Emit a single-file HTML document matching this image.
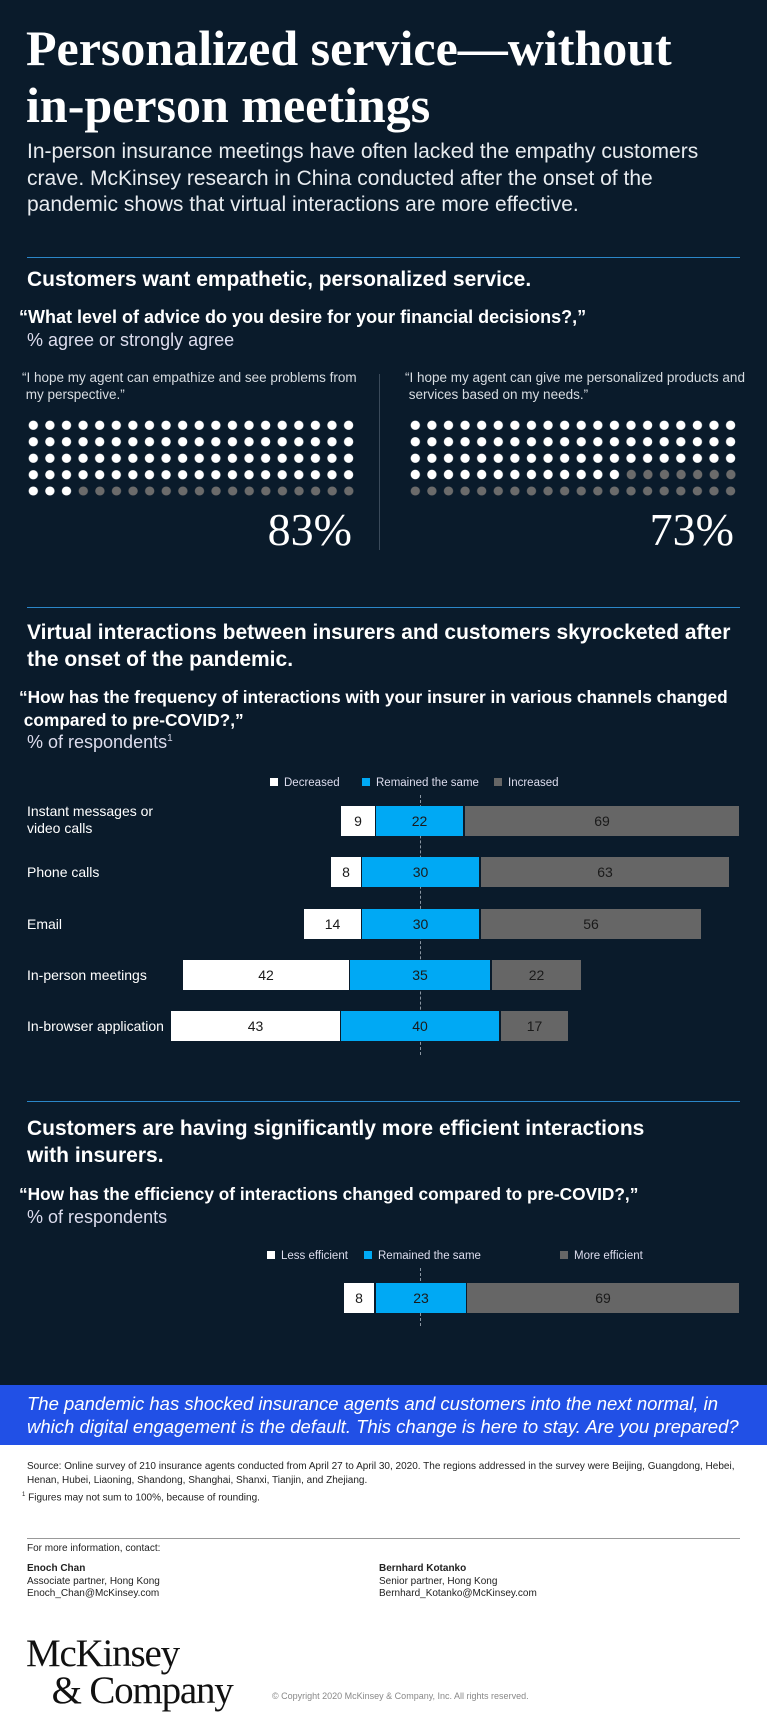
<!DOCTYPE html>
<html><head><meta charset="utf-8"><style>
*{margin:0;padding:0;box-sizing:border-box}
body{width:767px;height:1708px;position:relative;background:#0a1b2b;font-family:"Liberation Sans",sans-serif;color:#fff;overflow:hidden}
.a{position:absolute;white-space:nowrap}
.rule{position:absolute;left:27px;width:713px;height:1px;background:#2b87c8}
.w{background:radial-gradient(circle at center,#fff 4.3px,transparent 4.9px);background-size:16.6px 16.5px}
.g{background:radial-gradient(circle at center,#6b6b6b 4.3px,transparent 4.9px);background-size:16.6px 16.5px}
.bar{position:absolute;height:30px;display:flex;align-items:center;justify-content:center;font-size:14px;color:#1a1a1a}
.d{background:#fff}.r{background:#00a9f4}.i{background:#666}
.lab{position:absolute;left:27px;font-size:14px;color:#fff;line-height:17px}
.sq{display:inline-block;width:8px;height:8px;margin-right:6px;vertical-align:0}
</style></head><body>
<div class="a" style="left:26px;top:20px;font-family:'Liberation Serif',serif;font-size:50px;font-weight:bold;line-height:57px">Personalized service—without<br>in-person meetings</div>
<div class="a" style="left:27px;top:139px;font-size:21px;line-height:26.5px;color:#e8ecf0">In-person insurance meetings have often lacked the empathy customers<br>crave. McKinsey research in China conducted after the onset of the<br>pandemic shows that virtual interactions are more effective.</div>
<div class="rule" style="top:257px"></div>
<div class="a" style="left:27px;top:268px;font-size:21px;font-weight:bold">Customers want empathetic, personalized service.</div>
<div class="a" style="left:19px;top:307px;font-size:18px;font-weight:bold">“What level of advice do you desire for your financial decisions?,”</div>
<div class="a" style="left:27px;top:330px;font-size:18px;color:#dde">% agree or strongly agree</div>
<div class="a" style="left:22px;top:370px;font-size:13.5px;line-height:16.5px;color:#d8dde2">“I hope my agent can empathize and see problems from<br>&nbsp;my perspective.”</div>
<div class="a" style="left:405px;top:370px;font-size:13.5px;line-height:16.5px;color:#d8dde2">“I hope my agent can give me personalized products and<br>&nbsp;services based on my needs.”</div>
<div class="a w" style="left:24.7px;top:416.7px;width:332px;height:66px"></div>
<div class="a w" style="left:24.7px;top:482.7px;width:49.8px;height:16.5px"></div>
<div class="a g" style="left:74.5px;top:482.7px;width:282.2px;height:16.5px"></div>
<div class="a w" style="left:406.7px;top:416.7px;width:332px;height:49.5px"></div>
<div class="a w" style="left:406.7px;top:466.2px;width:215.8px;height:16.5px"></div>
<div class="a g" style="left:622.5px;top:466.2px;width:116.2px;height:16.5px"></div>
<div class="a g" style="left:406.7px;top:482.7px;width:332px;height:16.5px"></div>
<div class="a" style="left:379px;top:374px;width:1px;height:176px;background:#3a4a5a"></div>
<div class="a" style="right:415px;top:505px;font-family:'Liberation Serif',serif;font-size:46px;line-height:50px">83%</div>
<div class="a" style="right:33px;top:505px;font-family:'Liberation Serif',serif;font-size:46px;line-height:50px">73%</div>
<div class="rule" style="top:607px"></div>
<div class="a" style="left:27px;top:619px;font-size:21px;font-weight:bold;line-height:27px">Virtual interactions between insurers and customers skyrocketed after<br>the onset of the pandemic.</div>
<div class="a" style="left:19px;top:686px;font-size:17.3px;font-weight:bold;line-height:23px">“How has the frequency of interactions with your insurer in various channels changed<br>&nbsp;compared to pre-COVID?,”</div>
<div class="a" style="left:27px;top:732px;font-size:18px;color:#dde">% of respondents<sup style="font-size:10px">1</sup></div>
<div class="a" style="left:270px;top:777px;font-size:11.5px;color:#dde"><span class="sq d"></span>Decreased</div>
<div class="a" style="left:362px;top:777px;font-size:11.5px;color:#dde"><span class="sq r"></span>Remained the same</div>
<div class="a" style="left:494px;top:777px;font-size:11.5px;color:#dde"><span class="sq i"></span>Increased</div>
<div class="a" style="left:420px;top:795px;height:260px;border-left:1px dashed #8a96a2"></div>
<div class="lab" style="top:803px">Instant messages or<br>video calls</div>
<div class="bar d" style="left:341px;top:806px;width:34px">9</div><div class="bar r" style="left:376px;top:806px;width:87px">22</div><div class="bar i" style="left:465px;top:806px;width:274px">69</div>
<div class="lab" style="top:864px">Phone calls</div>
<div class="bar d" style="left:331px;top:857px;width:30px">8</div><div class="bar r" style="left:362px;top:857px;width:117px">30</div><div class="bar i" style="left:481px;top:857px;width:248px">63</div>
<div class="lab" style="top:916px">Email</div>
<div class="bar d" style="left:304px;top:909px;width:57px">14</div><div class="bar r" style="left:362px;top:909px;width:117px">30</div><div class="bar i" style="left:481px;top:909px;width:220px">56</div>
<div class="lab" style="top:967px">In-person meetings</div>
<div class="bar d" style="left:183px;top:960px;width:166px">42</div><div class="bar r" style="left:350px;top:960px;width:140px">35</div><div class="bar i" style="left:492px;top:960px;width:89px">22</div>
<div class="lab" style="top:1018px">In-browser application</div>
<div class="bar d" style="left:171px;top:1011px;width:169px">43</div><div class="bar r" style="left:341px;top:1011px;width:158px">40</div><div class="bar i" style="left:501px;top:1011px;width:67px">17</div>
<div class="rule" style="top:1101px"></div>
<div class="a" style="left:27px;top:1115px;font-size:21px;font-weight:bold;line-height:27px">Customers are having significantly more efficient interactions<br>with insurers.</div>
<div class="a" style="left:19px;top:1184px;font-size:17.3px;font-weight:bold">“How has the efficiency of interactions changed compared to pre-COVID?,”</div>
<div class="a" style="left:27px;top:1207px;font-size:18px;color:#dde">% of respondents</div>
<div class="a" style="left:267px;top:1250px;font-size:11.5px;color:#dde"><span class="sq d"></span>Less efficient</div>
<div class="a" style="left:364px;top:1250px;font-size:11.5px;color:#dde"><span class="sq r"></span>Remained the same</div>
<div class="a" style="left:560px;top:1250px;font-size:11.5px;color:#dde"><span class="sq i"></span>More efficient</div>
<div class="a" style="left:420px;top:1268px;height:58px;border-left:1px dashed #8a96a2"></div>
<div class="bar d" style="left:344px;top:1283px;width:30px">8</div><div class="bar r" style="left:376px;top:1283px;width:90px">23</div><div class="bar i" style="left:467px;top:1283px;width:272px">69</div>
<div class="a" style="left:0;top:1385px;width:767px;height:60px;background:#2150e6"></div>
<div class="a" style="left:27px;top:1392px;font-size:18.5px;font-style:italic;line-height:23px">The pandemic has shocked insurance agents and customers into the next normal, in<br>which digital engagement is the default. This change is here to stay. Are you prepared?</div>
<div class="a" style="left:0;top:1445px;width:767px;height:280px;background:#fff"></div>
<div class="a" style="left:27px;top:1460px;font-size:10px;line-height:13.5px;color:#222">Source: Online survey of 210 insurance agents conducted from April 27 to April 30, 2020. The regions addressed in the survey were Beijing, Guangdong, Hebei,<br>Henan, Hubei, Liaoning, Shandong, Shanghai, Shanxi, Tianjin, and Zhejiang.</div>
<div class="a" style="left:22px;top:1492px;font-size:10px;color:#222"><sup style="font-size:6px">1</sup> Figures may not sum to 100%, because of rounding.</div>
<div class="a" style="left:27px;top:1538px;width:713px;height:1px;background:#999"></div>
<div class="a" style="left:27px;top:1543px;font-size:10px;color:#222">For more information, contact:</div>
<div class="a" style="left:27px;top:1563px;font-size:10px;line-height:12.5px;color:#222"><b>Enoch Chan</b><br>Associate partner, Hong Kong<br>Enoch_Chan@McKinsey.com</div>
<div class="a" style="left:379px;top:1563px;font-size:10px;line-height:12.5px;color:#222"><b>Bernhard Kotanko</b><br>Senior partner, Hong Kong<br>Bernhard_Kotanko@McKinsey.com</div>
<div class="a" style="left:26px;top:1635px;font-family:'Liberation Serif',serif;font-size:39px;line-height:37px;color:#111;letter-spacing:-1.2px">McKinsey<br>&nbsp;&nbsp;&nbsp;&amp; Company</div>
<div class="a" style="left:272px;top:1691px;font-size:9px;color:#888">© Copyright 2020 McKinsey &amp; Company, Inc. All rights reserved.</div>
</body></html>
